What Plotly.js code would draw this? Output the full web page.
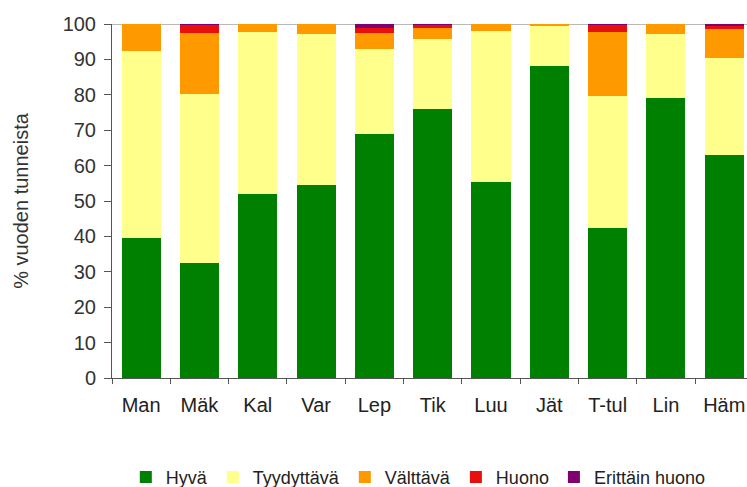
<!DOCTYPE html>
<html><head><meta charset="utf-8">
<script src="https://cdn.plot.ly/plotly-3.0.1.min.js"></script>
<style>html,body{margin:0;padding:0;background:#fff}#c{width:747px;height:487px}</style>
</head><body><div id="c"></div>
<script>
const categories = ["Man","Mäk","Kal","Var","Lep","Tik","Luu","Jät","T-tul","Lin","Häm"];
const hyva        = [39.5, 32.5, 52.0, 54.5, 69.0, 76.0, 55.5, 88.0, 42.5, 79.0, 63.0];
const tyydyttava  = [53.0, 47.7, 45.7, 42.7, 24.0, 19.8, 42.5, 11.3, 37.2, 18.2, 27.5];
const valttava    = [7.5, 17.4, 2.3, 2.8, 4.5, 3.0, 2.0, 0.7, 18.0, 2.8, 8.2];
const huono       = [0, 2.2, 0, 0, 1.5, 0.8, 0, 0, 2.1, 0, 0.8];
const erittain    = [0, 0.2, 0, 0, 1.0, 0.4, 0, 0, 0.2, 0, 0.5];
const seriesNames = ["Hyvä","Tyydyttävä","Välttävä","Huono","Erittäin huono"];
const yTicks = [0,10,20,30,40,50,60,70,80,90,100];

const colors = ["#008000","#FFFF8C","#FF9900","#E8100C","#800070"];
const vals = [hyva, tyydyttava, valttava, huono, erittain];
const traces = vals.map((v,i)=>({
  type:"bar", x:categories, y:v, name:seriesNames[i],
  marker:{color:colors[i], line:{width:0}}, hoverinfo:"none"
}));
const layout = {
  width:747, height:487, barmode:"stack", bargap:0.33,
  margin:{l:112, r:0, t:24, b:109},
  paper_bgcolor:"#fff", plot_bgcolor:"#fff",
  font:{family:"Liberation Sans, Arial, sans-serif", size:20, color:"#222"},
  xaxis:{range:[-0.5,10.39], showline:true, linecolor:"#555", linewidth:1,
    ticks:"outside", ticklen:5, tickcolor:"#555", tickson:"boundaries",
    ticklabelstandoff:9,
    tickfont:{size:20, color:"#222"}, fixedrange:true},
  yaxis:{range:[0,100], tickvals:yTicks, showline:true, linecolor:"#555", linewidth:1,
    ticks:"outside", ticklen:7, tickcolor:"#555", showgrid:false, zeroline:false,
    ticklabelstandoff:4,
    tickfont:{size:20, color:"#333"},
    title:{text:"% vuoden tunneista", font:{size:20, color:"#333"}, standoff:28}},
  shapes:[{type:"line", xref:"paper", yref:"y", x0:0, x1:1, y0:100, y1:100,
    line:{color:"#777", width:1}, layer:"below"}],
  showlegend:true,
  legend:{orientation:"h", xref:"container", yref:"container", x:0.56, xanchor:"center",
    y:0.02, yanchor:"middle", font:{size:18, color:"#222"}, itemwidth:30,
    traceorder:"normal", tracegroupgap:0}
};
Plotly.newPlot("c", traces, layout, {displayModeBar:false, staticPlot:true});
</script></body></html>
